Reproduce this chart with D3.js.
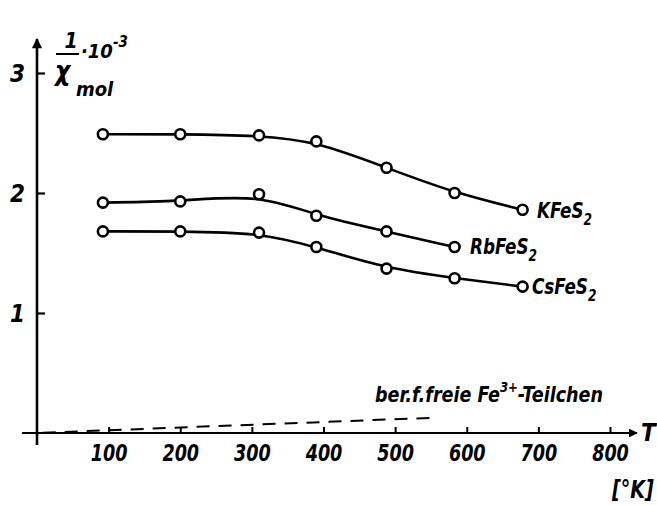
<!DOCTYPE html>
<html>
<head>
<meta charset="utf-8">
<script src="https://cdn.jsdelivr.net/npm/d3@7"></script>
<style>
  html, body { margin: 0; padding: 0; background: #fff; }
  svg { display: block; }
  text {
    font-family: "DejaVu Sans Condensed", "DejaVu Sans", sans-serif;
    font-stretch: condensed;
    font-style: italic;
    font-weight: bold;
    fill: #000;
  }
</style>
</head>
<body>
<svg id="chart" width="657" height="505"></svg>
<script>
// Reciprocal molar susceptibility (×10^-3) versus temperature T [K]
const temps = [92, 200, 310, 390, 488, 583, 678];
const kfes2 = [2.49, 2.49, 2.48, 2.43, 2.21, 2.00, 1.86];
const rbfes2 = [1.92, 1.93, 1.99, 1.81, 1.68, 1.55];
const csfes2 = [1.68, 1.68, 1.67, 1.55, 1.37, 1.29, 1.22];

// Curie-law line for free Fe3+ ions
const freeT = [8, 550];
const freeVal = [0.002, 0.126];

const xTicks = [100, 200, 300, 400, 500, 600, 700, 800];
const yTicks = [1, 2, 3];

const svg = d3.select("#chart");
const x = d3.scaleLinear().domain([0, 800]).range([37, 610]);
const y = d3.scaleLinear().domain([0, 3]).range([433, 73]);

// condensed look for the lettering
const squeeze = (sel, k) => sel.each(function () {
  const t = d3.select(this);
  const ax = +t.attr("x") || 0;
  t.attr("transform", `translate(${ax},0) scale(${k},1) translate(${-ax},0)`);
});

// x axis: ticks pointing up, labels below
const xAxis = d3.axisBottom(x).tickValues(xTicks).tickSize(-6).tickPadding(19)
  .tickFormat(d3.format("d"));
const gx = svg.append("g").attr("transform", `translate(0,${y(0)})`).call(xAxis);
gx.select(".domain").remove();
gx.selectAll(".tick line").attr("stroke", "#000").attr("stroke-width", 2);
gx.selectAll(".tick text").attr("font-size", 23).attr("dy", "0.4em")
  .attr("transform", "scale(0.85,1)");

// y axis: ticks pointing right, labels to the left
const yAxis = d3.axisLeft(y).tickValues(yTicks).tickSize(-8).tickPadding(12)
  .tickFormat(d3.format("d"));
const gy = svg.append("g").attr("transform", `translate(${x(0)},0)`).call(yAxis);
gy.select(".domain").remove();
gy.selectAll(".tick line").attr("stroke", "#000").attr("stroke-width", 2.2);
gy.selectAll(".tick text").attr("font-size", 24).attr("dy", "0.35em");

// axis lines with arrows
const defs = svg.append("defs");
defs.append("marker").attr("id", "arrow").attr("viewBox", "0 0 10 10")
  .attr("refX", 9).attr("refY", 5).attr("markerWidth", 5).attr("markerHeight", 4)
  .attr("orient", "auto-start-reverse").attr("markerUnits", "strokeWidth")
  .append("path").attr("d", "M0,0 L10,5 L0,10 Z").attr("fill", "#000");

svg.append("line")
  .attr("x1", x(0) - 15).attr("x2", x(0) + 600)
  .attr("y1", y(0)).attr("y2", y(0))
  .attr("stroke", "#000").attr("stroke-width", 2.2).attr("marker-end", "url(#arrow)");
svg.append("line")
  .attr("x1", x(0)).attr("x2", x(0))
  .attr("y1", y(0) + 12).attr("y2", y(3) - 34)
  .attr("stroke", "#000").attr("stroke-width", 2.6).attr("marker-end", "url(#arrow)");

svg.append("text").attr("x", x(0) + 604).attr("y", y(0) + 8)
  .attr("font-size", 24).text("T");
svg.append("text").attr("x", 612).attr("y", 498)
  .attr("font-size", 25).text("[°K]").call(squeeze, 0.85);

// y-axis quantity: 1/χ_mol · 10^-3
const lab = svg.append("g");
lab.append("text").attr("x", 71).attr("y", 48).attr("font-size", 21)
  .attr("text-anchor", "middle").text("1");
lab.append("line").attr("x1", 56).attr("x2", 79).attr("y1", 54).attr("y2", 54)
  .attr("stroke", "#000").attr("stroke-width", 2);
lab.append("text").attr("x", 55).attr("y", 80).attr("font-size", 26)
  .attr("font-family", "DejaVu Sans, sans-serif").text("χ");
lab.append("text").attr("x", 76).attr("y", 96).attr("font-size", 20)
  .text("mol");
const pw = lab.append("text").attr("x", 81).attr("y", 58).attr("font-size", 20);
pw.append("tspan").text("·10");
pw.append("tspan").attr("font-size", 15).attr("dy", -11).text("-3");

// measured series
const line = d3.line().x((d, i) => x(temps[i])).y(d => y(d)).curve(d3.curveBasis);
const series = [
  { name: "KFeS", vals: kfes2, lx: 537, ly: 218 },
  { name: "RbFeS", vals: rbfes2, lx: 470, ly: 254 },
  { name: "CsFeS", vals: csfes2, lx: 532, ly: 294 }
];

series.forEach(s => {
  svg.append("path").datum(s.vals).attr("d", line)
    .attr("fill", "none").attr("stroke", "#000").attr("stroke-width", 2.6);
  svg.append("g").selectAll("circle").data(s.vals).join("circle")
    .attr("cx", (d, i) => x(temps[i])).attr("cy", d => y(d)).attr("r", 5)
    .attr("fill", "#fff").attr("stroke", "#000").attr("stroke-width", 2.6);
  const t = svg.append("text").attr("x", s.lx).attr("y", s.ly).attr("font-size", 22);
  t.append("tspan").text(s.name);
  t.append("tspan").attr("font-size", 16).attr("dy", 7).text("2");
  t.call(squeeze, 0.85);
});

// free-ion reference line
svg.append("path").datum(freeVal)
  .attr("d", d3.line().x((d, i) => x(freeT[i])).y(d => y(d)))
  .attr("fill", "none").attr("stroke", "#000").attr("stroke-width", 2)
  .attr("stroke-dasharray", "13,9");

const ft = svg.append("text").attr("x", 375).attr("y", 402).attr("font-size", 21);
ft.append("tspan").text("ber.f.freie Fe");
ft.append("tspan").attr("font-size", 14).attr("dy", -10).text("3+");
ft.append("tspan").attr("dy", 10).text("-Teilchen");
ft.call(squeeze, 0.93);
</script>
</body>
</html>
